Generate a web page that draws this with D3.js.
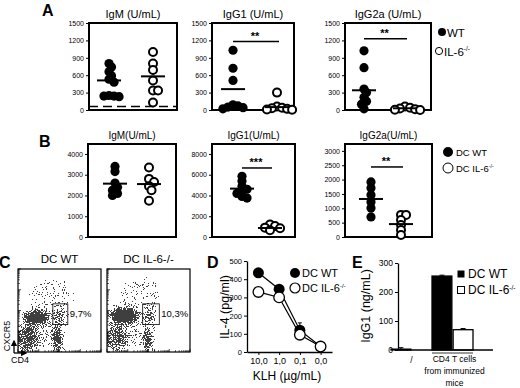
<!DOCTYPE html>
<html lang="en">
<head>
<meta charset="UTF-8">
<title>IL-6 DC figure</title>
<script src="https://d3js.org/d3.v7.min.js"></script>
<style>
  body { margin: 0; background: #fff; }
  text { font-family: "Liberation Sans", Arial, sans-serif; fill: #000; }
</style>
</head>
<body>
<script>
// ---- A: serum Ig (U/mL), WT vs IL-6-/- ----
var groups = ["WT", "IL-6-/-"];
var aIgM_WT = [800, 740, 660, 590, 530, 480, 250, 240, 240, 230];
var aIgM_KO = [1000, 800, 690, 510, 335, 335, 130];
var aIgG1_WT = [1030, 720, 510, 90, 70, 50, 40, 20];
var aIgG1_KO = [300, 60, 40, 30, 20, 10, 5];
var aIgG2a_WT = [1020, 730, 360, 300, 220, 150, 100, 20];
var aIgG2a_KO = [60, 40, 25, 15, 5, 0];
var aMeans = [[510, 580], [360, 50], [340, 30]];
var aTicks = [0, 300, 600, 900, 1200, 1500];
var aDetection = 60;

// ---- B: DC WT vs DC IL-6-/- ----
var bIgM_WT = [3400, 3150, 2600, 2400, 2250, 2100, 2000];
var bIgM_KO = [3350, 2800, 2650, 2450, 2250, 1750];
var bIgG1_WT = [5850, 5400, 4900, 4600, 4400, 4200, 3900, 3750];
var bIgG1_KO = [1200, 1050, 900, 850, 650];
var bIgG2a_WT = [1920, 1710, 1465, 1220, 1010, 700];
var bIgG2a_KO = [770, 770, 590, 420, 240, 70];
var bMeans = [[2570, 2550], [4660, 870], [1325, 450]];
var bTicks = [[0, 1000, 2000, 3000, 4000], [0, 2000, 4000, 6000, 8000], [0, 500, 1000, 1500, 2000, 2500, 3000]];

// ---- C: FACS, CXCR5 vs CD4 (populations in 0-100 plot units) ----
var facsTitles = ["DC WT", "DC IL-6-/-"];
var facsGateLabels = ["9,7%", "10,3%"];
var facsGates = [[42, 60, 33, 58], [43, 63, 33, 58]];
var facsPops = [
  [{x: 10, y: 16, rx: 15, ry: 17, d: 0.5}, {x: 21, y: 42, rx: 16, ry: 8, d: 0.8},
   {x: 48, y: 15, rx: 4.5, ry: 17, d: 0.8}, {x: 51, y: 43, rx: 6, ry: 10, d: 0.5},
   {x: 40, y: 66, rx: 26, ry: 22, d: 0.17}, {x: 30, y: 28, rx: 22, ry: 22, d: 0.22}],
  [{x: 10, y: 16, rx: 15, ry: 17, d: 0.45}, {x: 20, y: 44, rx: 17, ry: 9, d: 0.9},
   {x: 50, y: 14, rx: 4.5, ry: 16, d: 0.75}, {x: 52, y: 43, rx: 6, ry: 9, d: 0.55},
   {x: 40, y: 68, rx: 24, ry: 22, d: 0.17}, {x: 30, y: 28, rx: 22, ry: 22, d: 0.2}]
];

// ---- D: IL-4 (pg/ml) vs KLH dose ----
var klhDoses = ["10,0", "1,0", "0,1", "0,0"];
var il4_WT = [435, 345, 120, 30];
var il4_KO = [330, 300, 95, 30];
var il4_WTerr = [5, 15, 40, 5];

// ---- E: IgG1 (ng/mL) ----
var eGroups = ["/", "CD4 T cells from immunized mice"];
var eSeries = ["DC WT", "DC IL-6-/-"];
var igg1_WT = [3, 255];
var igg1_KO = [0, 70];
var igg1_WTerr = [5, 3];
var igg1_KOerr = [0, 4];

var svg = d3.select("body").append("svg").attr("width", 520).attr("height", 388);
var defs = svg.append("defs");
var fmt = d3.format("d");

function letter(t, x, y) {
  svg.append("text").attr("x", x).attr("y", y).text(t)
    .style("font-size", "16px").style("font-weight", "bold");
}

function koLabel(g, x, y, size, base) {
  var t = g.append("text").attr("x", x).attr("y", y).style("font-size", size + "px");
  t.append("tspan").text(base);
  t.append("tspan").text("-/-").attr("dy", -size * 0.35).style("font-size", (size * 0.55) + "px");
  return t;
}

// beeswarm-like dodge so overlapping points spread sideways
function swarm(vals, cx, y, minD) {
  var placed = [];
  vals.slice().sort(d3.descending).forEach(function(v) {
    var py = y(v), dx = 0;
    for (var k = 0; k < 40; k++) {
      dx = (k % 2 ? 1 : -1) * Math.ceil(k / 2) * minD * 0.6;
      var ok = placed.every(function(p) { return Math.hypot(p.x - (cx + dx), p.y - py) >= minD; });
      if (ok) break;
    }
    placed.push({x: cx + dx, y: py});
  });
  return placed;
}

function dotPanel(c) {
  var y = d3.scaleLinear().domain([0, c.ymax]).range([c.b, c.t]);
  var x = d3.scalePoint().domain(groups).range(c.xr);
  var g = svg.append("g");
  var ax = g.append("g").attr("transform", "translate(" + c.l + ",0)")
    .call(d3.axisLeft(y).tickValues(c.ticks).tickFormat(fmt).tickSize(3).tickPadding(2).tickSizeOuter(0));
  ax.select(".domain").remove();
  ax.attr("font-family", null).selectAll("text").style("font-size", "7px");
  g.append("rect").attr("x", c.l).attr("y", c.t).attr("width", c.r - c.l).attr("height", c.b - c.t)
    .attr("fill", "none").attr("stroke", "#000").attr("stroke-width", 2);
  g.append("text").attr("x", (c.l + c.r) / 2).attr("y", c.t - 5).attr("text-anchor", "middle")
    .style("font-size", c.tsize + "px").text(c.title);
  if (c.detect != null) {
    g.append("line").attr("x1", c.l).attr("x2", c.r).attr("y1", y(c.detect)).attr("y2", y(c.detect))
      .attr("stroke", "#000").attr("stroke-width", 1.5).attr("stroke-dasharray", "9,5");
  }
  [c.wt, c.ko].forEach(function(vals, i) {
    var pts = swarm(vals, x(groups[i]), y, 4.2);
    g.selectAll(null).data(pts).enter().append("circle")
      .attr("cx", function(d) { return d.x; }).attr("cy", function(d) { return d.y; })
      .attr("r", i ? 4 : 4.6)
      .attr("fill", i ? "#fff" : "#000").attr("stroke", "#000").attr("stroke-width", i ? 2 : 0);
    g.append("line").attr("x1", x(groups[i]) - 12).attr("x2", x(groups[i]) + 12)
      .attr("y1", y(c.means[i])).attr("y2", y(c.means[i])).attr("stroke", "#000").attr("stroke-width", 2);
  });
  if (c.sig) {
    g.append("line").attr("x1", x(groups[0])).attr("x2", x(groups[1]) + 2)
      .attr("y1", y(c.sig[1])).attr("y2", y(c.sig[1])).attr("stroke", "#000").attr("stroke-width", 1.5);
    g.append("text").attr("x", (x(groups[0]) + x(groups[1])) / 2).attr("y", y(c.sig[1]) - 2)
      .attr("text-anchor", "middle").style("font-size", "11px").style("font-weight", "bold").text(c.sig[0]);
  }
}

// ---- panel A ----
letter("A", 42, 16);
var aTitles = ["IgM (U/mL)", "IgG1 (U/mL)", "IgG2a (U/mL)"];
var aData = [[aIgM_WT, aIgM_KO], [aIgG1_WT, aIgG1_KO], [aIgG2a_WT, aIgG2a_KO]];
var aSig = [null, ["**", 1180], ["**", 1230]];
var aBoxes = [{l: 89, r: 177, xr: [109, 153]}, {l: 212, r: 294, xr: [233, 277]}, {l: 345, r: 431, xr: [364, 405]}];
aBoxes.forEach(function(bx, i) {
  dotPanel({l: bx.l, r: bx.r, t: 23, b: 110, xr: bx.xr, ymax: 1500, ticks: aTicks,
    title: aTitles[i], tsize: 11, wt: aData[i][0], ko: aData[i][1], means: aMeans[i],
    sig: aSig[i], detect: i === 0 ? aDetection : null});
});
svg.append("circle").attr("cx", 442).attr("cy", 32).attr("r", 4).attr("fill", "#000");
svg.append("text").attr("x", 447).attr("y", 36.5).style("font-size", "11.5px").text("WT");
svg.append("circle").attr("cx", 439).attr("cy", 51).attr("r", 3.6).attr("fill", "none").attr("stroke", "#000").attr("stroke-width", 1);
koLabel(svg, 444, 55.5, 11.5, "IL-6");

// ---- panel B ----
letter("B", 39, 147);
var bTitles = ["IgM(U/mL)", "IgG1(U/mL)", "IgG2a(U/mL)"];
var bData = [[bIgM_WT, bIgM_KO], [bIgG1_WT, bIgG1_KO], [bIgG2a_WT, bIgG2a_KO]];
var bSig = [null, ["***", 6650], ["**", 2440]];
var bMax = [4480, 8960, 3240];
var bBoxes = [{l: 88, r: 176, xr: [115, 149]}, {l: 212, r: 295, xr: [242, 270]}, {l: 345, r: 432, xr: [371, 401]}];
bBoxes.forEach(function(bx, i) {
  dotPanel({l: bx.l, r: bx.r, t: 144, b: 237, xr: bx.xr, ymax: bMax[i], ticks: bTicks[i],
    title: bTitles[i], tsize: 10, wt: bData[i][0], ko: bData[i][1], means: bMeans[i],
    sig: bSig[i], detect: null});
});
svg.append("circle").attr("cx", 448).attr("cy", 152).attr("r", 5).attr("fill", "#000");
svg.append("text").attr("x", 456).attr("y", 155.5).style("font-size", "9.5px").text("DC WT");
svg.append("circle").attr("cx", 448).attr("cy", 168).attr("r", 5).attr("fill", "#fff").attr("stroke", "#000").attr("stroke-width", 1);
koLabel(svg, 456, 171.5, 9.5, "DC IL-6");

// ---- panel C: speckle texture thresholded from blurred density ellipses ----
var filt = defs.append("filter").attr("id", "speckle").attr("filterUnits", "userSpaceOnUse")
  .attr("x", 0).attr("y", 255).attr("width", 200).attr("height", 105);
filt.append("feGaussianBlur").attr("in", "SourceAlpha").attr("stdDeviation", 3).attr("result", "dens");
filt.append("feTurbulence").attr("type", "fractalNoise").attr("baseFrequency", 0.9)
  .attr("numOctaves", 1).attr("seed", 7).attr("result", "noise");
filt.append("feComponentTransfer").attr("in", "noise").attr("result", "noise2")
  .append("feFuncA").attr("type", "linear").attr("slope", 2.5).attr("intercept", -0.72);
filt.append("feComposite").attr("in", "dens").attr("in2", "noise2").attr("operator", "arithmetic")
  .attr("k1", 0).attr("k2", 1.5).attr("k3", -1).attr("k4", 0.42).attr("result", "diff");
filt.append("feComponentTransfer").attr("in", "diff").attr("result", "th")
  .append("feFuncA").attr("type", "discrete").attr("tableValues", "0 1");
filt.append("feColorMatrix").attr("in", "th").attr("type", "matrix")
  .attr("values", "0 0 0 0 0.05  0 0 0 0 0.05  0 0 0 0 0.05  0 0 0 1 0");

letter("C", -1, 268);
[18, 107].forEach(function(l, i) {
  var t = 269, b = 352, r = l + 83;
  var x = d3.scaleLinear().domain([0, 100]).range([l, r]);
  var y = d3.scaleLinear().domain([0, 100]).range([b, t]);
  defs.append("clipPath").attr("id", "clip" + i).append("rect")
    .attr("x", l).attr("y", t).attr("width", r - l).attr("height", b - t);
  var cells = svg.append("g").attr("clip-path", "url(#clip" + i + ")")
    .append("g").attr("filter", "url(#speckle)");
  cells.selectAll("ellipse").data(facsPops[i]).enter().append("ellipse")
    .attr("cx", function(d) { return x(d.x); }).attr("cy", function(d) { return y(d.y); })
    .attr("rx", function(d) { return x(d.rx) - x(0); }).attr("ry", function(d) { return y(0) - y(d.ry); })
    .attr("fill", "#000").attr("fill-opacity", function(d) { return d.d; });
  svg.append("rect").attr("x", l).attr("y", t).attr("width", r - l).attr("height", b - t)
    .attr("fill", "none").attr("stroke", "#000").attr("stroke-width", 1.2);
  // log decade ticks along bottom and left edges
  var lx = d3.scaleLog().domain([1, 1e4]).range([l, r]);
  var ly = d3.scaleLog().domain([1, 1e4]).range([b, t]);
  lx.ticks().forEach(function(v) {
    var major = Math.abs(Math.log10(v) % 1) < 1e-6;
    svg.append("line").attr("x1", lx(v)).attr("x2", lx(v)).attr("y1", b).attr("y2", b - (major ? 3 : 1.8))
      .attr("stroke", "#000").attr("stroke-width", 0.7);
    svg.append("line").attr("y1", ly(v)).attr("y2", ly(v)).attr("x1", l).attr("x2", l + (major ? 3 : 1.8))
      .attr("stroke", "#000").attr("stroke-width", 0.7);
  });
  var gt = facsGates[i];
  svg.append("rect").attr("x", x(gt[0])).attr("y", y(gt[3])).attr("width", x(gt[1]) - x(gt[0]))
    .attr("height", y(gt[2]) - y(gt[3])).attr("fill", "none").attr("stroke", "#000").attr("stroke-width", 0.8);
  svg.append("text").attr("x", x(gt[1]) + 2).attr("y", y((gt[2] + gt[3]) / 2) + 3)
    .style("font-size", "9.5px").text(facsGateLabels[i]);
  svg.append("text").attr("x", (l + r) / 2).attr("y", 263).attr("text-anchor", "middle")
    .style("font-size", "11.5px").text(facsTitles[i]);
});
var arrow = defs.append("marker").attr("id", "arr").attr("viewBox", "0 0 10 10").attr("refX", 8).attr("refY", 5)
  .attr("markerWidth", 5).attr("markerHeight", 5).attr("orient", "auto");
arrow.append("path").attr("d", "M0,0L10,5L0,10z").attr("fill", "#000");
svg.append("path").attr("d", "M14,353V341").attr("stroke", "#000").attr("stroke-width", 1.3).attr("marker-end", "url(#arr)");
svg.append("path").attr("d", "M14,353H26").attr("stroke", "#000").attr("stroke-width", 1.3).attr("marker-end", "url(#arr)");
svg.append("text").attr("transform", "translate(9.5,336) rotate(-90)").attr("text-anchor", "middle")
  .style("font-size", "9px").text("CXCR5");
svg.append("text").attr("x", 11).attr("y", 363).style("font-size", "9px").text("CD4");

// ---- panel D ----
letter("D", 207, 268);
var dX = d3.scalePoint().domain(klhDoses).range([247, 332]).padding(0.55);
var dY = d3.scaleLinear().domain([0, 500]).range([352, 261]);
var dAxY = svg.append("g").attr("transform", "translate(247,0)")
  .call(d3.axisLeft(dY).tickValues([0, 100, 200, 300, 400, 500]).tickSize(3).tickPadding(2).tickSizeOuter(0));
dAxY.attr("font-family", null).selectAll("text").style("font-size", "7.5px");
var dAxX = svg.append("g").attr("transform", "translate(0,352)")
  .call(d3.axisBottom(dX).tickSize(3).tickPadding(3).tickSizeOuter(0));
dAxX.attr("font-family", null).selectAll("text").style("font-size", "9px");
svg.selectAll(".domain").attr("stroke-width", 1.3);
var dLine = d3.line().x(function(d, i) { return dX(klhDoses[i]); }).y(function(d) { return dY(d); });
svg.append("path").datum(il4_WT).attr("d", dLine).attr("fill", "none").attr("stroke", "#000").attr("stroke-width", 1.2);
svg.append("path").datum(il4_KO).attr("d", dLine).attr("fill", "none").attr("stroke", "#000").attr("stroke-width", 1.2);
il4_WT.forEach(function(v, i) {
  var cx = dX(klhDoses[i]);
  svg.append("line").attr("x1", cx).attr("x2", cx).attr("y1", dY(v)).attr("y2", dY(v + il4_WTerr[i])).attr("stroke", "#000");
  svg.append("line").attr("x1", cx - 2).attr("x2", cx + 2).attr("y1", dY(v + il4_WTerr[i])).attr("y2", dY(v + il4_WTerr[i])).attr("stroke", "#000");
});
svg.selectAll(null).data(il4_WT).enter().append("circle")
  .attr("cx", function(d, i) { return dX(klhDoses[i]); }).attr("cy", function(d) { return dY(d); })
  .attr("r", 5.5).attr("fill", "#000");
svg.selectAll(null).data(il4_KO).enter().append("circle")
  .attr("cx", function(d, i) { return dX(klhDoses[i]); }).attr("cy", function(d) { return dY(d); })
  .attr("r", 5.3).attr("fill", "#fff").attr("stroke", "#000").attr("stroke-width", 1.3);
svg.append("text").attr("transform", "translate(229,307) rotate(-90)").attr("text-anchor", "middle")
  .style("font-size", "12.5px").text("IL-4 (pg/ml)");
svg.append("text").attr("x", 287).attr("y", 380).attr("text-anchor", "middle")
  .style("font-size", "12px").text("KLH (µg/mL)");
svg.append("circle").attr("cx", 295).attr("cy", 273).attr("r", 5).attr("fill", "#000");
svg.append("text").attr("x", 302).attr("y", 277).style("font-size", "11px").text("DC WT");
svg.append("circle").attr("cx", 295).attr("cy", 288).attr("r", 5).attr("fill", "#fff").attr("stroke", "#000").attr("stroke-width", 1.2);
koLabel(svg, 302, 292, 11, "DC IL-6");

// ---- panel E ----
letter("E", 352, 268);
var eY = d3.scaleLinear().domain([0, 300]).range([350, 263]);
var eX0 = d3.scaleBand().domain(eGroups).range([391, 473]);
var eX1 = d3.scaleBand().domain(eSeries).range([0, eX0.bandwidth()]).paddingInner(0.06);
var eAx = svg.append("g").attr("transform", "translate(398,0)")
  .call(d3.axisLeft(eY).tickValues([0, 100, 200, 300]).tickSize(3).tickPadding(2).tickSizeOuter(0));
eAx.attr("font-family", null).selectAll("text").style("font-size", "8.5px");
eAx.select(".domain").attr("stroke-width", 1.3);
[igg1_WT, igg1_KO].forEach(function(vals, s) {
  var errs = s ? igg1_KOerr : igg1_WTerr;
  vals.forEach(function(v, gi) {
    var bx = eX0(eGroups[gi]) + eX1(eSeries[s]), bw = eX1.bandwidth(), cx = bx + bw / 2;
    if (v > 0) {
      svg.append("rect").attr("x", bx).attr("y", eY(v)).attr("width", bw).attr("height", eY(0) - eY(v))
        .attr("fill", s ? "#fff" : "#000").attr("stroke", "#000").attr("stroke-width", 1.3);
    }
    if (errs[gi] > 0) {
      svg.append("line").attr("x1", cx).attr("x2", cx).attr("y1", eY(v)).attr("y2", eY(v + errs[gi])).attr("stroke", "#000");
      svg.append("line").attr("x1", cx - 2.5).attr("x2", cx + 2.5).attr("y1", eY(v + errs[gi])).attr("y2", eY(v + errs[gi])).attr("stroke", "#000");
    }
  });
});
svg.append("line").attr("x1", 398).attr("x2", 493).attr("y1", 350).attr("y2", 350).attr("stroke", "#000").attr("stroke-width", 1.3);
svg.append("line").attr("x1", eX0(eGroups[1])).attr("x2", eX0(eGroups[1]) + eX0.bandwidth())
  .attr("y1", 353).attr("y2", 353).attr("stroke", "#000").attr("stroke-width", 0.8);
svg.append("text").attr("x", eX0(eGroups[0]) + eX0.bandwidth() / 2).attr("y", 363).attr("text-anchor", "middle")
  .style("font-size", "8.5px").text(eGroups[0]);
["CD4 T cells", "from immunized", "mice"].forEach(function(t, i) {
  svg.append("text").attr("x", eX0(eGroups[1]) + eX0.bandwidth() / 2 + 2).attr("y", 362 + i * 12)
    .attr("text-anchor", "middle").style("font-size", "8.5px").text(t);
});
svg.append("text").attr("transform", "translate(370,306) rotate(-90)").attr("text-anchor", "middle")
  .style("font-size", "12.5px").text("IgG1 (ng/mL)");
svg.append("rect").attr("x", 457.5).attr("y", 270.5).attr("width", 7).attr("height", 7).attr("fill", "#000");
svg.append("text").attr("x", 468).attr("y", 278).style("font-size", "12px").text("DC WT");
svg.append("rect").attr("x", 457.5).attr("y", 286.5).attr("width", 7).attr("height", 7)
  .attr("fill", "#fff").attr("stroke", "#000").attr("stroke-width", 1);
koLabel(svg, 468, 294, 12, "DC IL-6");
</script>
</body>
</html>
